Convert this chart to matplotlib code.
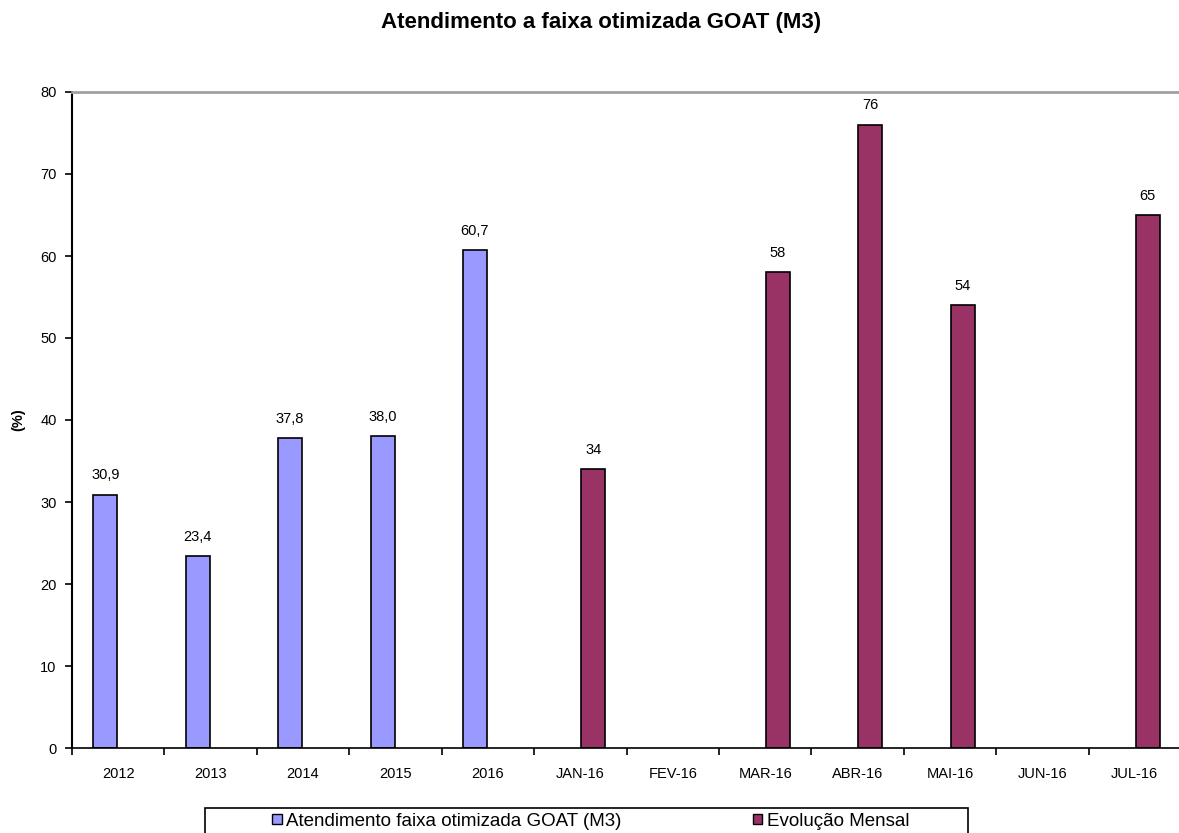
import numpy as np
import matplotlib.pyplot as plt
from matplotlib.patches import Rectangle

plt.rcParams['font.family'] = ['Liberation Sans', 'DejaVu Sans']

# categorias do eixo x
categorias = ['2012', '2013', '2014', '2015', '2016', 'JAN-16', 'FEV-16',
              'MAR-16', 'ABR-16', 'MAI-16', 'JUN-16', 'JUL-16']

# séries (nan = sem valor)
anual = [30.9, 23.4, 37.8, 38.0, 60.7, np.nan, np.nan,
         np.nan, np.nan, np.nan, np.nan, np.nan]
mensal = [np.nan, np.nan, np.nan, np.nan, np.nan, 34, np.nan,
          58, 76, 54, np.nan, 65]

nome_anual = 'Atendimento faixa otimizada GOAT (M3)'
nome_mensal = 'Evolução Mensal'
titulo = 'Atendimento a faixa otimizada GOAT (M3)'

cor_anual = '#9999FF'
cor_mensal = '#993366'

fig = plt.figure(figsize=(11.79, 8.33), dpi=100)
ax = fig.add_axes([72 / 1179, 85 / 833, 1109 / 1179, 656 / 833])

x = np.arange(len(categorias))
largura = 0.26
desloc = 0.14

ax.bar(x - desloc, anual, largura, color=cor_anual, edgecolor='black',
       linewidth=1.2, label=nome_anual)
ax.bar(x + desloc, mensal, largura, color=cor_mensal, edgecolor='black',
       linewidth=1.2, label=nome_mensal)

# rótulos de valor acima das barras
for xi, v in zip(x, anual):
    if not np.isnan(v):
        ax.text(xi - desloc, v + 1.5, f'{v:.1f}'.replace('.', ','),
                ha='center', va='bottom', fontsize=10.5)
for xi, v in zip(x, mensal):
    if not np.isnan(v):
        ax.text(xi + desloc, v + 1.5, f'{v:.0f}',
                ha='center', va='bottom', fontsize=10.5)

ax.set_xlim(-0.5, len(categorias) - 0.5)
ax.set_ylim(0, 80)
ax.set_yticks(np.arange(0, 81, 10))
ax.tick_params(axis='y', direction='out', length=5, width=1.2, pad=6,
               labelsize=10.5)

ax.set_xticks(x)
ax.set_xticklabels(categorias)
ax.tick_params(axis='x', which='major', length=0, pad=14, labelsize=10.5)
ax.set_xticks(np.arange(-0.5, len(categorias), 1), minor=True)
ax.tick_params(axis='x', which='minor', direction='out', length=5, width=1.2)

ax.spines['right'].set_visible(False)
ax.spines['top'].set_color('#a0a0a0')
ax.spines['top'].set_linewidth(2)
ax.spines['left'].set_linewidth(1.5)
ax.spines['bottom'].set_linewidth(1.2)

ax.set_ylabel('(%)', fontsize=10.5, fontweight='bold', labelpad=11)

fig.text(0.51, 0.973, titulo, ha='center', va='center',
         fontsize=16, fontweight='bold')

# legenda em caixa na parte inferior
fig.patches.append(Rectangle((205 / 1179, -0.02), 763 / 1179, 0.02 + 25 / 833,
                             transform=fig.transFigure, facecolor='white',
                             edgecolor='black', linewidth=1.2))
h1 = Rectangle((0, 0), 1, 1, facecolor=cor_anual, edgecolor='black', linewidth=1)
h2 = Rectangle((0, 0), 1, 1, facecolor=cor_mensal, edgecolor='black', linewidth=1)
fig.legend([h1, h2], [nome_anual, nome_mensal], loc='center',
           bbox_to_anchor=(591 / 1179, 12 / 833), ncol=2, frameon=False,
           fontsize=13.5, handlelength=0.5, handleheight=0.5,
           handletextpad=0.25, columnspacing=7)

fig.savefig('out.png', dpi=100)
